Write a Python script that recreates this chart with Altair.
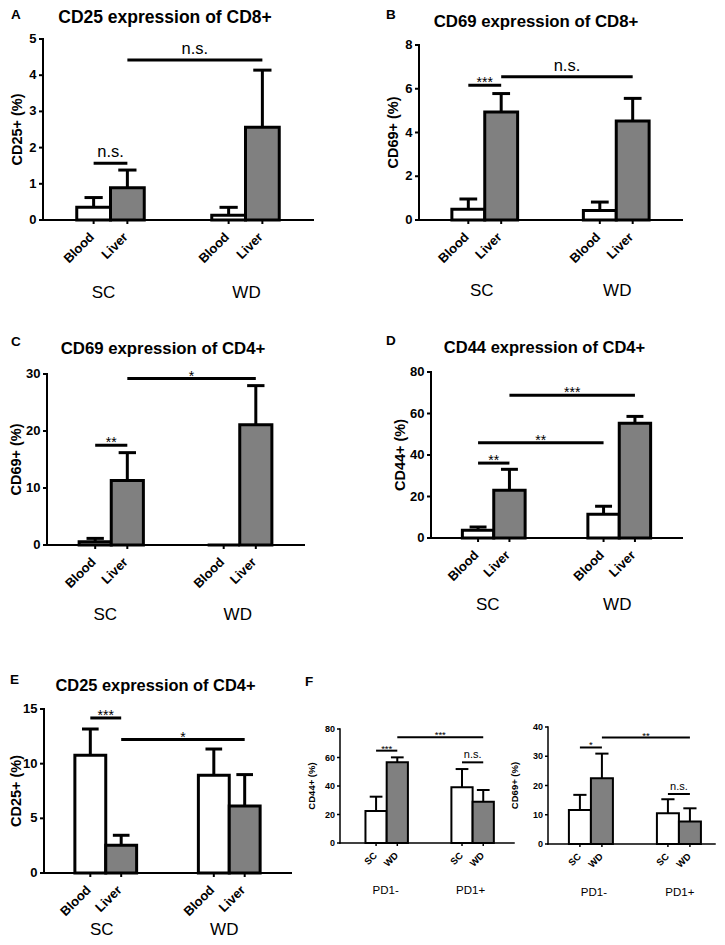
import altair as alt
import pandas as pd

FONT = "Liberation Sans"
WHITE = "#ffffff"
GRAY = "#808080"

# ---------------- data ----------------
# Panel A
A_title = "CD25 expression of CD8+"
A_ytitle = "CD25+ (%)"
A_cats = ["Blood", "Liver", "Blood", "Liver"]
A_groups = ["SC", "WD"]
A_mean = [0.35, 0.89, 0.13, 2.56]
A_err = [0.27, 0.49, 0.22, 1.58]
A_yticks = [0, 1, 2, 3, 4, 5]
A_sig_a = [0, 1]
A_sig_b = [1, 3]
A_sig_y = [1.57, 4.42]
A_sig_txt = ["n.s.", "n.s."]

# Panel B
B_title = "CD69 expression of CD8+"
B_ytitle = "CD69+ (%)"
B_cats = ["Blood", "Liver", "Blood", "Liver"]
B_groups = ["SC", "WD"]
B_mean = [0.49, 4.94, 0.43, 4.53]
B_err = [0.47, 0.84, 0.39, 1.03]
B_yticks = [0, 2, 4, 6, 8]
B_sig_a = [0, 1]
B_sig_b = [1, 3]
B_sig_y = [6.16, 6.55]
B_sig_txt = ["***", "n.s."]

# Panel C
C_title = "CD69 expression of CD4+"
C_ytitle = "CD69+ (%)"
C_cats = ["Blood", "Liver", "Blood", "Liver"]
C_groups = ["SC", "WD"]
C_mean = [0.58, 11.3, 0.0, 21.1]
C_err = [0.58, 4.9, 0.0, 6.86]
C_yticks = [0, 10, 20, 30]
C_sig_a = [0, 1]
C_sig_b = [1, 3]
C_sig_y = [17.5, 29.2]
C_sig_txt = ["**", "*"]

# Panel D
D_title = "CD44 expression of CD4+"
D_ytitle = "CD44+ (%)"
D_cats = ["Blood", "Liver", "Blood", "Liver"]
D_groups = ["SC", "WD"]
D_mean = [3.7, 23.0, 11.4, 55.3]
D_err = [1.6, 10.1, 3.9, 3.3]
D_yticks = [0, 20, 40, 60, 80]
D_sig_a = [0, 0, 1]
D_sig_b = [1, 2, 3]
D_sig_y = [36.1, 45.9, 68.8]
D_sig_txt = ["**", "**", "***"]

# Panel E
E_title = "CD25 expression of CD4+"
E_ytitle = "CD25+ (%)"
E_cats = ["Blood", "Liver", "Blood", "Liver"]
E_groups = ["SC", "WD"]
E_mean = [10.76, 2.53, 8.93, 6.13]
E_err = [2.41, 0.92, 2.41, 2.87]
E_yticks = [0, 5, 10, 15]
E_sig_a = [0, 1]
E_sig_b = [1, 3]
E_sig_y = [14.18, 12.2]
E_sig_txt = ["***", "*"]

# Panel F (left: CD44+, right: CD69+)
F_cats = ["SC", "WD", "SC", "WD"]
F_groups = ["PD1-", "PD1+"]
F1_ytitle = "CD44+ (%)"
F1_mean = [22.5, 56.6, 39.1, 29.0]
F1_err = [10.0, 3.5, 12.8, 8.2]
F1_yticks = [0, 20, 40, 60, 80]
F1_sig_a = [0, 1, 2]
F1_sig_b = [1, 3, 3]
F1_sig_y = [64.8, 74.2, 56.6]
F1_sig_txt = ["***", "***", "n.s."]

F2_ytitle = "CD69+ (%)"
F2_mean = [11.6, 22.5, 10.5, 7.7]
F2_err = [5.2, 8.4, 4.8, 4.5]
F2_yticks = [0, 10, 20, 30, 40]
F2_sig_a = [0, 1, 2]
F2_sig_b = [1, 3, 3]
F2_sig_y = [33.0, 36.4, 17.1]
F2_sig_txt = ["*", "**", "n.s."]


def pack(title, ytitle, cats, groups, mean, err, yticks, sa, sb, sy, st):
    return dict(title=title, ytitle=ytitle, cats=cats, groups=groups, mean=mean,
                err=err, yticks=yticks, sig_a=sa, sig_b=sb, sig_y=sy, sig_txt=st)


dA = pack(A_title, A_ytitle, A_cats, A_groups, A_mean, A_err, A_yticks, A_sig_a, A_sig_b, A_sig_y, A_sig_txt)
dB = pack(B_title, B_ytitle, B_cats, B_groups, B_mean, B_err, B_yticks, B_sig_a, B_sig_b, B_sig_y, B_sig_txt)
dC = pack(C_title, C_ytitle, C_cats, C_groups, C_mean, C_err, C_yticks, C_sig_a, C_sig_b, C_sig_y, C_sig_txt)
dD = pack(D_title, D_ytitle, D_cats, D_groups, D_mean, D_err, D_yticks, D_sig_a, D_sig_b, D_sig_y, D_sig_txt)
dE = pack(E_title, E_ytitle, E_cats, E_groups, E_mean, E_err, E_yticks, E_sig_a, E_sig_b, E_sig_y, E_sig_txt)
dF1 = pack("", F1_ytitle, F_cats, F_groups, F1_mean, F1_err, F1_yticks, F1_sig_a, F1_sig_b, F1_sig_y, F1_sig_txt)
dF2 = pack("", F2_ytitle, F_cats, F_groups, F2_mean, F2_err, F2_yticks, F2_sig_a, F2_sig_b, F2_sig_y, F2_sig_txt)

# ---------------- layout (pixel geometry of the reference) ----------------
CELLS = {
    "A": (38, 36, 308, 217),
    "B": (340, 36, 682, 217),
    "C": (38, 370, 299, 555),
    "D": (340, 370, 682, 555),
    "E": (38, 708, 286, 872),
    "F": (340, 708, 715, 843),
}
GEO = {
    "A": dict(axL=38, axR=308, zero=217, top=36, pad=1, gap=2, total=8, glab=295, ytx=25, gdx=(-7, 1)),
    "B": dict(axL=419, axR=682, zero=217, top=42, pad=1, gap=2, total=8, glab=293, ytx=25, gdx=(-3, 1)),
    "C": dict(axL=42, axR=299, zero=543, top=372, pad=1, gap=2, total=8, glab=618, ytx=30, gdx=(-6, -2)),
    "D": dict(axL=431, axR=682, zero=536, top=370, pad=1, gap=2, total=8, glab=608, ytx=30.5, gdx=(-6, -2)),
    "E": dict(axL=39, axR=286, zero=872, top=708, pad=1, gap=2, total=8, glab=934, ytx=27, gdx=(-4, -5)),
    "F1": dict(axL=340, axR=514, zero=842, top=728, pad=1.2, gap=2.05, total=8.2, glab=893, ytx=28.5, gdx=(-1, -2)),
    "F2": dict(axL=548, axR=715, zero=843, top=726, pad=0.95, gap=2.0, total=7.59, glab=895, ytx=33, gdx=(3, 1)),
}
MAIN = dict(bw=3, ew=3, sw=3, aw=2, tick=4, tw=2, yl=13, ylpad=2.5, yt=14.5, xl=13,
            xly=15, xlx=1.5, gl=17, ns=16.5, ast=14, nsdy=-6, asdy=2, cap=0.27)
SMALL = dict(bw=2, ew=2, sw=2, aw=1.5, tick=3, tw=1.5, yl=9, ylpad=2, yt=9.5, xl=9.5,
             xly=11, xlx=0.5, gl=11.5, ns=11, ast=9.5, nsdy=-4, asdy=1, cap=0.3)


def panel(d, g, cell, st, texts):
    L, T, R, B = cell
    ymax = d["yticks"][-1]
    slot = (g["axR"] - g["axL"]) / g["total"]
    unit = (g["zero"] - g["top"]) / ymax
    xs = alt.Scale(domain=[(L - g["axL"]) / slot, (R - g["axL"]) / slot], nice=False, zero=False)
    ys = alt.Scale(domain=[-(B - g["zero"]) / unit, (g["zero"] - T) / unit], nice=False, zero=False)
    n = len(d["mean"])
    left = [g["pad"] + (k // 2) * (2 + g["gap"]) + (k % 2) for k in range(n)]
    cen = [v + 0.5 for v in left]
    bars = pd.DataFrame({
        "x": left, "x2": [v + 1 for v in left], "c": cen,
        "cl": [c - st["cap"] for c in cen], "cr": [c + st["cap"] for c in cen],
        "mean": d["mean"], "top": [m + e for m, e in zip(d["mean"], d["err"])],
        "base": [0.0] * n, "err": d["err"],
        "fill": [WHITE if k % 2 == 0 else GRAY for k in range(n)],
    })

    def X(f):
        return alt.X(f, scale=xs, axis=None)

    def Y(f):
        return alt.Y(f, scale=ys, axis=None)

    layers = []
    layers.append(alt.Chart(bars).mark_rect(stroke="black", strokeWidth=st["bw"]).encode(
        x=X("x:Q"), x2="x2:Q", y=Y("mean:Q"), y2="base:Q",
        fill=alt.Fill("fill:N", scale=None, legend=None)))
    eb = bars[bars["err"] > 0]
    layers.append(alt.Chart(eb).mark_rule(color="black", strokeWidth=st["ew"]).encode(
        x=X("c:Q"), y=Y("mean:Q"), y2="top:Q"))
    layers.append(alt.Chart(eb).mark_rule(color="black", strokeWidth=st["ew"]).encode(
        x=X("cl:Q"), x2="cr:Q", y=Y("top:Q")))

    # axis lines
    ax = pd.DataFrame({"x0": [0.0], "x1": [float(g["total"])], "y0": [0.0], "y1": [float(ymax)]})
    layers.append(alt.Chart(ax).mark_rule(color="black", strokeWidth=st["aw"], strokeCap="square").encode(
        x=X("x0:Q"), y=Y("y0:Q"), y2="y1:Q"))
    layers.append(alt.Chart(ax).mark_rule(color="black", strokeWidth=st["aw"], strokeCap="square").encode(
        x=X("x0:Q"), x2="x1:Q", y=Y("y0:Q")))

    # y ticks and labels
    m = len(d["yticks"])
    tk = st["tick"]
    yt = pd.DataFrame({"v": d["yticks"], "x0": [-tk / slot] * m, "x1": [0.0] * m,
                       "lx": [-(tk + st["ylpad"]) / slot] * m,
                       "lab": [str(v) for v in d["yticks"]]})
    layers.append(alt.Chart(yt).mark_rule(color="black", strokeWidth=st["tw"]).encode(
        x=X("x0:Q"), x2="x1:Q", y=Y("v:Q")))
    layers.append(alt.Chart(yt).mark_text(font=FONT, fontSize=st["yl"], fontWeight="bold",
                                          align="right", baseline="middle", color="black").encode(
        x=X("lx:Q"), y=Y("v:Q"), text="lab:N"))
    # y title
    yti = pd.DataFrame({"x": [-g["ytx"] / slot], "y": [ymax / 2], "t": [d["ytitle"]]})
    layers.append(alt.Chart(yti).mark_text(font=FONT, fontSize=st["yt"], fontWeight="bold",
                                           angle=270, align="center", baseline="middle",
                                           color="black").encode(
        x=X("x:Q"), y=Y("y:Q"), text="t:N"))

    # x ticks and category labels
    xt = pd.DataFrame({"c": cen, "y0": [0.0] * n, "y1": [-tk / unit] * n,
                       "ly": [-st["xly"] / unit] * n,
                       "lx": [c - st["xlx"] / slot for c in cen], "lab": d["cats"]})
    layers.append(alt.Chart(xt).mark_rule(color="black", strokeWidth=st["tw"]).encode(
        x=X("c:Q"), y=Y("y0:Q"), y2="y1:Q"))
    layers.append(alt.Chart(xt).mark_text(font=FONT, fontSize=st["xl"], fontWeight="bold",
                                          angle=315, align="right", baseline="middle",
                                          color="black").encode(
        x=X("lx:Q"), y=Y("ly:Q"), text="lab:N"))

    # significance
    sig = pd.DataFrame({"a": [cen[i] for i in d["sig_a"]], "b": [cen[j] for j in d["sig_b"]],
                        "y": d["sig_y"], "t": d["sig_txt"]})
    sig["m"] = (sig["a"] + sig["b"]) / 2
    layers.append(alt.Chart(sig).mark_rule(color="black", strokeWidth=st["sw"]).encode(
        x=X("a:Q"), x2="b:Q", y=Y("y:Q")))
    ns = sig[sig["t"] == "n.s."]
    ast = sig[sig["t"] != "n.s."]
    if len(ns):
        layers.append(alt.Chart(ns).mark_text(font=FONT, fontSize=st["ns"], dy=st["nsdy"],
                                              baseline="alphabetic", color="black").encode(
            x=X("m:Q"), y=Y("y:Q"), text="t:N"))
    if len(ast):
        layers.append(alt.Chart(ast).mark_text(font=FONT, fontSize=st["ast"], dy=st["asdy"],
                                               baseline="alphabetic", color="black").encode(
            x=X("m:Q"), y=Y("y:Q"), text="t:N"))

    # group labels (SC / WD, PD1- / PD1+)
    gl = pd.DataFrame({"x": [left[0] + 1 + g["gdx"][0] / slot, left[2] + 1 + g["gdx"][1] / slot],
                       "t": d["groups"]})
    layers.append(alt.Chart(gl).mark_text(font=FONT, fontSize=st["gl"], baseline="alphabetic",
                                          color="black").encode(
        x=X("x:Q"), y=alt.value(g["glab"] - T), text="t:N"))

    # panel title and letter
    for txt, px, py, size, align in texts:
        layers.append(alt.Chart(pd.DataFrame({"t": [txt]})).mark_text(
            font=FONT, fontSize=size, fontWeight="bold", align=align, baseline="alphabetic",
            color="black").encode(x=alt.value(px - L), y=alt.value(py - T), text="t:N"))
    return alt.layer(*layers)


def size(cell):
    L, T, R, B = cell
    return dict(width=R - L, height=B - T)


K = 4  # lower the top-row headings a little so the whole figure sits higher
A = panel(dA, GEO["A"], CELLS["A"], MAIN,
          [(dA["title"], 160, 16 + K, 17.5, "center"), ("A", 6, 12 + K, 13.5, "left")]).properties(**size(CELLS["A"]))
B = panel(dB, GEO["B"], CELLS["B"], MAIN,
          [(dB["title"], 536, 20 + K, 16.8, "center"), ("B", 386, 12 + K, 13.5, "left")]).properties(**size(CELLS["B"]))
C = panel(dC, GEO["C"], CELLS["C"], MAIN,
          [(dC["title"], 158, 352, 16.8, "center"), ("C", 6, 344, 13.5, "left")]).properties(**size(CELLS["C"]))
D = panel(dD, GEO["D"], CELLS["D"], MAIN,
          [(dD["title"], 544.5, 351, 16.5, "center"), ("D", 386, 343, 13.5, "left")]).properties(**size(CELLS["D"]))
E = panel(dE, GEO["E"], CELLS["E"], MAIN,
          [(dE["title"], 150.5, 690, 16.4, "center"), ("E", 5, 683, 13.5, "left")]).properties(**size(CELLS["E"]))
F1 = panel(dF1, GEO["F1"], CELLS["F"], SMALL, [("F", 305, 685, 13.5, "left")])
F2 = panel(dF2, GEO["F2"], CELLS["F"], SMALL, [])
F = alt.layer(F1, F2).resolve_scale(x="independent", y="independent").properties(**size(CELLS["F"]))

chart = alt.concat(
    A, B, C, D, E, F, columns=2,
    spacing={"row": 152, "column": 27},
    bounds="flush", align="each", padding=0,
).configure_view(stroke=None)

chart.save("out.html", embed_options={"renderer": "svg", "actions": False})
